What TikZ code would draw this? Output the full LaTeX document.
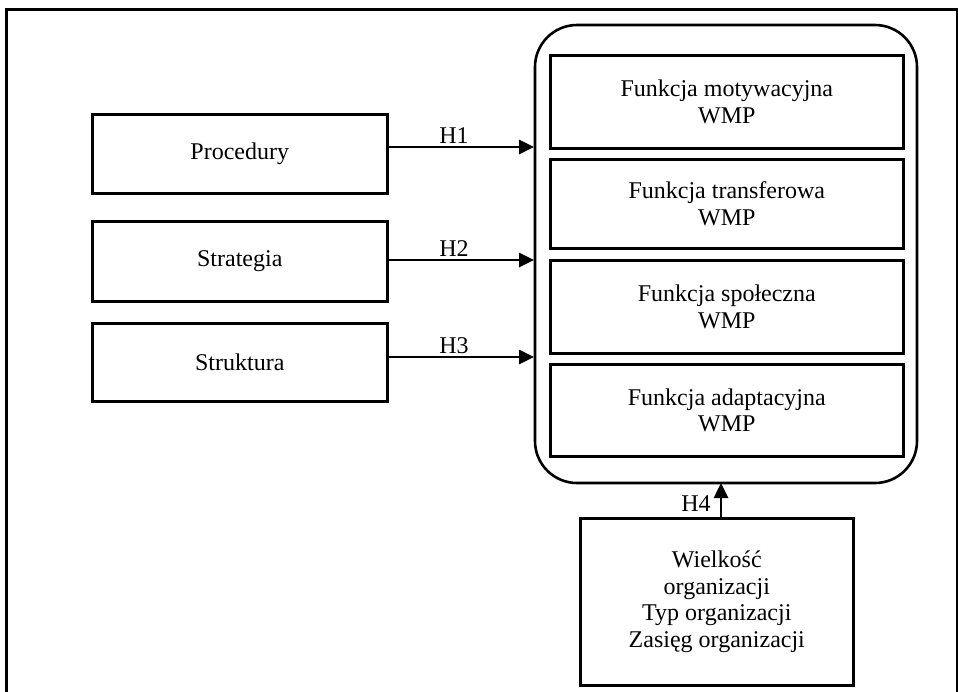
\documentclass[tikz,border=0pt]{standalone}
\usepackage{fontspec}
\setmainfont{Liberation Serif}
\usetikzlibrary{arrows.meta}
\begin{document}
\begin{tikzpicture}[x=1pt,y=-1pt,
  box/.style={draw,line width=2.6pt,align=center,font=\fontsize{24}{26.5}\selectfont},
  arr/.style={line width=2.6pt,-{Triangle[length=15pt,width=14pt]}},
  lbl/.style={font=\fontsize{24}{26.5}\selectfont,inner sep=2pt}]
\useasboundingbox (0,0) rectangle (958,691);
\draw[line width=3pt] (6,9) rectangle (957,695);
\draw[line width=2.6pt,rounded corners=42pt] (535,25) rectangle (917,483);
\node[box,minimum width=353pt,minimum height=93pt,anchor=north west] (f1) at (549,54) {Funkcja motywacyjna\\WMP};
\node[box,minimum width=353pt,minimum height=89pt,anchor=north west] (f2) at (549,158) {Funkcja transferowa\\WMP};
\node[box,minimum width=353pt,minimum height=93pt,anchor=north west] (f3) at (549,259) {Funkcja społeczna\\WMP};
\node[box,minimum width=353pt,minimum height=92pt,anchor=north west] (f4) at (549,363) {Funkcja adaptacyjna\\WMP};
\node[box,minimum width=295pt,minimum height=79pt,anchor=north west] (p) at (91,113) {Procedury};
\node[box,minimum width=295pt,minimum height=80pt,anchor=north west] (s) at (91,220) {Strategia};
\node[box,minimum width=295pt,minimum height=78pt,anchor=north west] (t) at (91,322) {Struktura};
\node[box,minimum width=273pt,minimum height=167pt,anchor=north west] (w) at (579,517) {Wielkość\\organizacji\\Typ organizacji\\Zasięg organizacji};
\coordinate (h1e) at (534,147);
\coordinate (h2e) at (534,260);
\coordinate (h3e) at (534,357);
\coordinate (h4e) at (721,483);
\draw[arr] (p.east |- h1e) -- node[lbl,above,pos=0.45] {H1} (h1e);
\draw[arr] (s.east |- h2e) -- node[lbl,above,pos=0.45] {H2} (h2e);
\draw[arr] (t.east |- h3e) -- node[lbl,above,pos=0.45] {H3} (h3e);
\draw[arr] (w.north -| h4e) -- node[lbl,left,pos=0.4,inner xsep=9pt] {H4} (h4e);
\end{tikzpicture}
\end{document}
